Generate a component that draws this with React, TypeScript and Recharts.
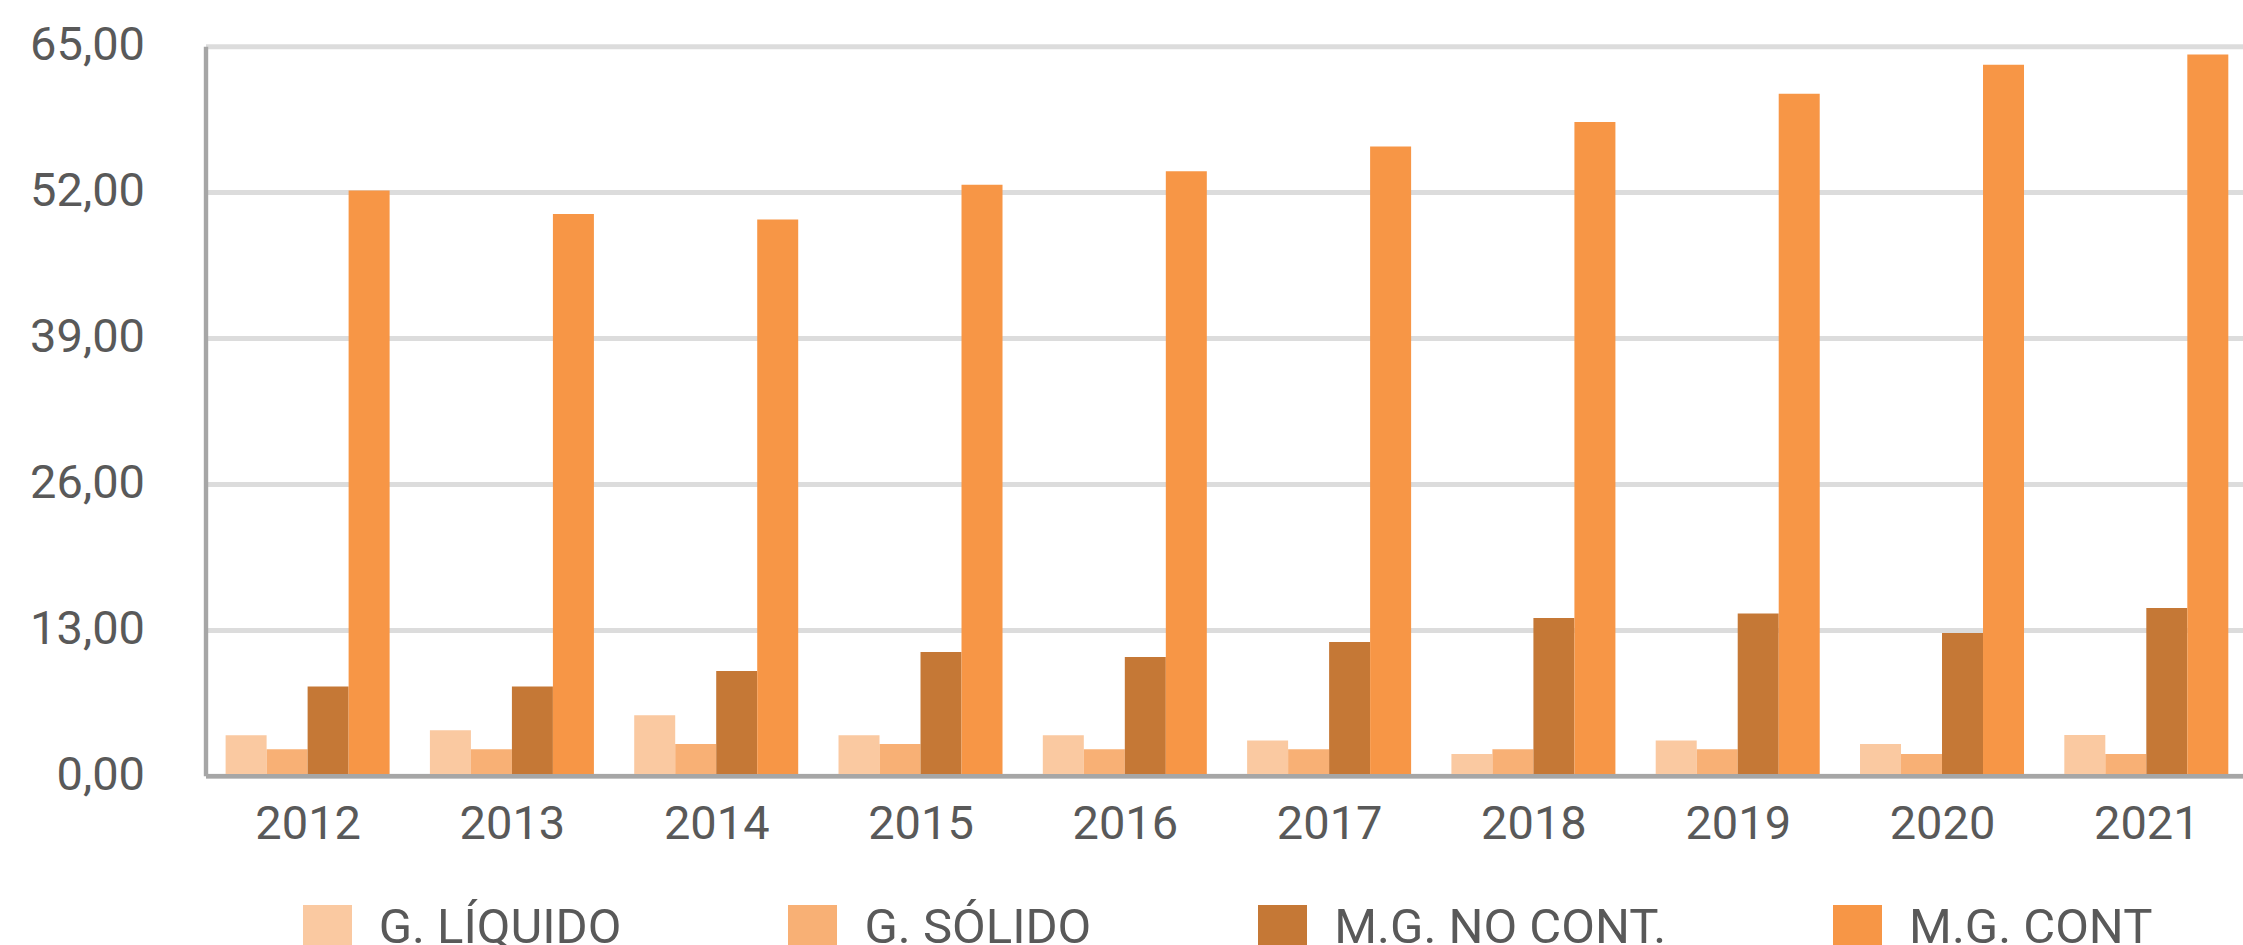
import React from 'react';
import { BarChart, Bar, XAxis, YAxis, CartesianGrid, Legend } from 'recharts';

const years = ['2012', '2013', '2014', '2015', '2016', '2017', '2018', '2019', '2020', '2021'];
const gLiquido = [3.65, 4.1, 5.45, 3.65, 3.65, 3.2, 1.98, 3.2, 2.88, 3.68];
const gSolido = [2.42, 2.42, 2.88, 2.88, 2.42, 2.42, 2.42, 2.42, 1.98, 1.98];
const mgNoCont = [8.0, 8.0, 9.38, 11.07, 10.62, 11.96, 14.1, 14.5, 12.76, 15.0];
const mgCont = [52.2, 50.1, 49.6, 52.7, 53.9, 56.1, 58.3, 60.8, 63.4, 64.3];

const yTicks = [0, 13, 26, 39, 52, 65];
const yTickLabels = ['0,00', '13,00', '26,00', '39,00', '52,00', '65,00'];

const seriesKeys = ['liq', 'sol', 'mgnc', 'mgc'];
const seriesNames = ['G. LÍQUIDO', 'G. SÓLIDO', 'M.G. NO CONT.', 'M.G. CONT'];
const seriesColors = ['#FAC9A1', '#F8B075', '#C57836', '#F79646'];

const data = years.map((y, i) => ({
  year: y,
  liq: gLiquido[i],
  sol: gSolido[i],
  mgnc: mgNoCont[i],
  mgc: mgCont[i],
}));

const TEXT = '#595959';

const LegendContent = () => (
  <div style={{ display: 'flex', justifyContent: 'center', alignItems: 'flex-start', fontFamily: 'Roboto', fontSize: 49, color: TEXT }}>
    {seriesNames.map((n, i) => (
      <div key={n} style={{ display: 'flex', alignItems: 'flex-start', marginRight: i < seriesNames.length - 1 ? 167 : 0 }}>
        <div style={{ width: 49, height: 49, background: seriesColors[i] }} />
        <span style={{ marginLeft: 27, lineHeight: '49px', position: 'relative', top: -3, whiteSpace: 'nowrap' }}>{n}</span>
      </div>
    ))}
  </div>
);

export default function App() {
  return (
    <div style={{ position: 'fixed', top: 0, left: 0, width: 2243, height: 945, overflow: 'hidden', background: '#fff', fontFamily: 'Roboto' }}>
      <BarChart
        width={2250}
        height={945}
        data={data}
        margin={{ top: 46.7, right: 1, bottom: 0, left: 0 }}
        barGap={0}
        barCategoryGap="9.6%"
      >
        <CartesianGrid vertical={false} stroke="#DCDCDC" strokeWidth={5} />
        {seriesKeys.map((k, i) => (
          <Bar key={k} dataKey={k} name={seriesNames[i]} fill={seriesColors[i]} isAnimationActive={false} />
        ))}
        <XAxis
          dataKey="year"
          height={168.7}
          tickLine={false}
          tickSize={0}
          tickMargin={29}
          axisLine={{ stroke: '#A6A6A6', strokeWidth: 4.6 }}
          tick={{ fill: TEXT, fontSize: 47, fontFamily: 'Roboto' }}
          interval={0}
        />
        <YAxis
          width={206}
          domain={[0, 65]}
          ticks={yTicks}
          tickFormatter={(v: number) => yTickLabels[yTicks.indexOf(v)]}
          tickLine={false}
          tickSize={0}
          tickMargin={61}
          axisLine={{ stroke: '#A6A6A6', strokeWidth: 4.4 }}
          tick={{ fill: TEXT, fontSize: 47, fontFamily: 'Roboto', dy: -3 }}
          interval={0}
        />
        <Legend
          layout="horizontal"
          verticalAlign="middle"
          align="center"
          content={<LegendContent />}
          wrapperStyle={{ top: 905, left: 206, width: 2043, bottom: 'auto' }}
        />
      </BarChart>
    </div>
  );
}
